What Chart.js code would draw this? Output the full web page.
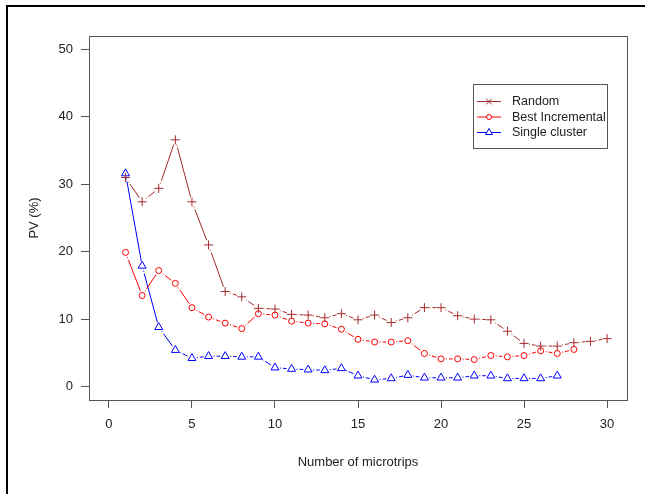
<!DOCTYPE html>
<html>
<head>
<meta charset="utf-8">
<script src="https://cdn.jsdelivr.net/npm/chart.js@4.4.1/dist/chart.umd.min.js"></script>
<style>
body{margin:0;background:#fff;}
canvas{display:block;}
</style>
</head>
<body>
<canvas id="Chart" width="645" height="494"></canvas>
<script>
const microtrips=[1,2,3,4,5,6,7,8,9,10,11,12,13,14,15,16,17,18,19,20,21,22,23,24,25,26,27,28,29,30];
const randomPV=[31.0,27.4,29.4,36.6,27.4,21.0,14.1,13.3,11.6,11.5,10.7,10.6,10.2,10.8,9.9,10.6,9.5,10.2,11.7,11.7,10.5,10.0,9.9,8.2,6.4,6.0,6.0,6.5,6.7,7.1];
const bestIncPV=[19.9,13.5,17.2,15.3,11.7,10.3,9.4,8.6,10.8,10.6,9.7,9.4,9.3,8.5,7.0,6.6,6.6,6.8,4.9,4.1,4.1,4.0,4.6,4.4,4.6,5.3,4.9,5.5];
const singleClusterPV=[31.6,17.9,8.8,5.4,4.2,4.5,4.5,4.4,4.4,2.8,2.6,2.5,2.4,2.7,1.6,1.0,1.2,1.7,1.3,1.3,1.3,1.6,1.6,1.2,1.2,1.2,1.6];
const xTicks=[0,5,10,15,20,25,30];
const yTicks=[0,10,20,30,40,50];

const toXY=arr=>arr.map((v,i)=>({x:microtrips[i],y:v}));

// R type="b": gap round each point, a dot then a dash
const gap=5;
function segDash(c){
    const L=Math.hypot(c.p1.x-c.p0.x,c.p1.y-c.p0.y);
    const rest=L-2*gap-3;
    if(rest<=0) return [0,L];
    return [0,gap,1,2,rest,gap];
}

const textColor='#222';
const boxColor='#555';
const font={family:'"Liberation Sans", Arial, sans-serif',size:13};

const framePlugin={
    id:'frame',
    beforeDraw(chart){
        const c=chart.ctx;
        c.save();
        c.fillStyle='#fff';
        c.fillRect(0,0,chart.width,chart.height);
        c.fillStyle='#000';
        c.fillRect(6,5,639,2);
        c.fillRect(6,5,2,489);
        c.restore();
    },
    afterDraw(chart){
        const c=chart.ctx;
        const a=chart.chartArea;
        c.save();
        c.strokeStyle=boxColor;
        c.lineWidth=1;
        c.strokeRect(Math.round(a.left)+0.5,Math.round(a.top)+0.5,Math.round(a.right-a.left),Math.round(a.bottom-a.top));
        // legend
        c.strokeRect(473.5,84.5,134,64);
        const rows=[101,116.5,132];
        chart.data.datasets.forEach((ds,i)=>{
            const y=rows[i];
            c.strokeStyle=ds.borderColor;
            c.lineWidth=1;
            c.setLineDash([]);
            c.beginPath();
            c.moveTo(477,y+0.5);
            c.lineTo(501,y+0.5);
            c.stroke();
            c.fillStyle='#fff';
            Chart.helpers.drawPoint(c,{pointStyle:ds.legendStyle,radius:ds.legendStyle==='circle'?2.5:4,borderWidth:1,rotation:0},489,y+0.5);
            c.fillStyle=textColor;
            c.font='12.5px "Liberation Sans", Arial, sans-serif';
            c.textBaseline='middle';
            c.textAlign='left';
            c.fillText(ds.label,512,y+1);
        });
        c.restore();
    }
};

new Chart(document.getElementById('Chart'),{
    type:'line',
    data:{
        datasets:[{
            label:'Random',
            data:toXY(randomPV),
            borderColor:'#a52a2a',
            pointBorderColor:'#a52a2a',
            pointBackgroundColor:'rgba(0,0,0,0)',
            pointStyle:'cross',
            legendStyle:'crossRot',
            pointRadius:4.5,
            pointBorderWidth:1,
            borderWidth:1,
            segment:{borderDash:segDash}
        },{
            label:'Best Incremental',
            data:toXY(bestIncPV),
            borderColor:'#ff0000',
            pointBorderColor:'#ff0000',
            pointBackgroundColor:'rgba(0,0,0,0)',
            pointStyle:'circle',
            legendStyle:'circle',
            pointRadius:3,
            pointBorderWidth:1,
            borderWidth:1,
            segment:{borderDash:segDash}
        },{
            label:'Single cluster',
            data:toXY(singleClusterPV),
            borderColor:'#0000ff',
            pointBorderColor:'#0000ff',
            pointBackgroundColor:'rgba(0,0,0,0)',
            pointStyle:'triangle',
            legendStyle:'triangle',
            pointRadius:4.6,
            pointBorderWidth:1,
            borderWidth:1,
            segment:{borderDash:segDash}
        }]
    },
    options:{
        responsive:false,
        animation:false,
        events:[],
        layout:{padding:{top:36,right:18,left:0,bottom:0}},
        plugins:{
            legend:{display:false},
            tooltip:{enabled:false}
        },
        scales:{
            x:{
                type:'linear',
                min:-1.2,
                max:31.2,
                afterBuildTicks:s=>{s.ticks=xTicks.map(v=>({value:v}));},
                afterFit:s=>{s.height=94;},
                grid:{display:true,drawOnChartArea:false,drawTicks:true,tickLength:8,tickColor:boxColor,color:boxColor},
                border:{display:false},
                ticks:{color:textColor,font:font,padding:9,maxRotation:0,autoSkip:false},
                title:{display:true,text:'Number of microtrips',color:textColor,font:font,padding:{top:0,bottom:24}}
            },
            y:{
                type:'linear',
                min:-2,
                max:52,
                afterBuildTicks:s=>{s.ticks=yTicks.map(v=>({value:v}));},
                afterFit:s=>{s.width=89;},
                grid:{display:true,drawOnChartArea:false,drawTicks:true,tickLength:8,tickColor:boxColor,color:boxColor},
                border:{display:false},
                ticks:{color:textColor,font:font,padding:8,autoSkip:false},
                title:{display:true,text:'PV (%)',color:textColor,font:font,padding:{top:27,bottom:0}}
            }
        }
    },
    plugins:[framePlugin]
});
</script>
</body>
</html>
